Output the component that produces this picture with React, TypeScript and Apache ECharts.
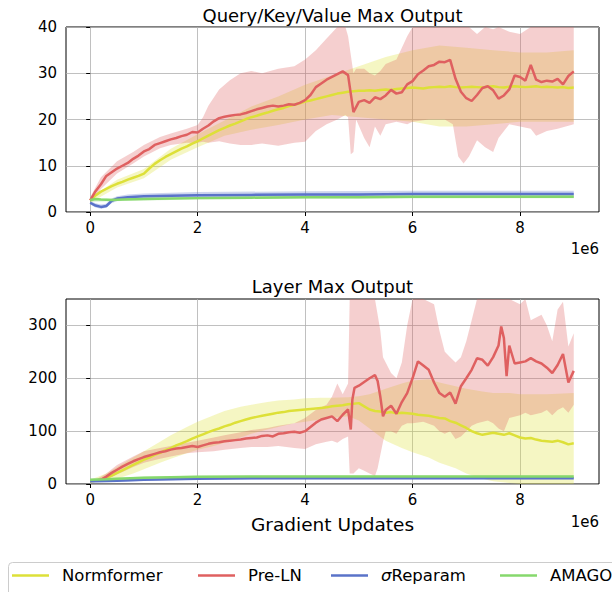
import React, { useEffect, useRef } from "react";
import * as echarts from "echarts";

// ---------- data ----------
const SERIES_NAMES = ["Normformer", "Pre-LN", "σReparam", "AMAGO"];
const X_TICKS = [0, 2, 4, 6, 8];
const QKV_Y_TICKS = [0, 10, 20, 30, 40];
const LAYER_Y_TICKS = [0, 100, 200, 300];

// x grid (step 0.1e6, values shown in units of 1e6)
const X_GRID = Array.from({ length: 91 }, (_, i) => i / 10);

// --- Query/Key/Value Max Output ---
const qkvPreLnMean = [
  2.5, 4.5, 6.0, 7.8, 8.6, 9.4, 10.0, 10.6, 11.5, 12.2,
  13.1, 13.6, 14.5, 14.9, 15.3, 15.7, 16.0, 16.4, 16.7, 17.3,
  17.2, 18.0, 18.7, 19.6, 20.3, 20.6, 20.8, 21.0, 21.1, 21.4,
  21.8, 22.2, 22.5, 22.8, 23.0, 22.8, 23.0, 23.3, 23.2, 23.6,
  24.2, 25.3, 27.0, 27.8, 28.6, 29.2, 29.8, 30.4, 29.6, 21.6,
  23.8, 24.2, 23.6, 24.8, 24.4, 25.2, 26.4, 25.6, 25.9, 27.6,
  28.3, 29.8, 30.6, 31.5, 31.8, 32.5, 32.4, 32.9, 28.8, 26.0,
  24.6, 24.0, 25.3, 26.8, 27.2, 26.3, 24.5, 25.2, 26.5, 29.5,
  29.2, 28.4, 31.8, 28.6, 28.1, 28.4, 28.2, 28.8, 27.6, 29.4,
  30.4,
];
const qkvNormMean = [
  2.5, 3.6, 4.4, 5.0, 5.6, 6.1, 6.5, 7.0, 7.4, 7.8,
  8.3, 9.4, 10.4, 11.2, 11.9, 12.5, 13.1, 13.7, 14.2, 14.8,
  15.3, 15.9, 16.5, 17.1, 17.7, 18.2, 18.7, 19.1, 19.6, 20.1,
  20.5, 20.8, 21.2, 21.5, 21.9, 22.2, 22.5, 22.9, 23.2, 23.5,
  23.9, 24.1, 24.4, 24.7, 25.0, 25.3, 25.6, 25.8, 26.0, 26.1,
  26.2, 26.2, 26.3, 26.2, 26.4, 26.5, 26.4, 26.6, 26.7, 26.8,
  26.9, 26.8, 26.7, 26.9, 27.0, 27.1, 27.0, 27.2, 27.0, 26.9,
  27.0, 27.1, 27.0, 26.9, 27.1, 27.2, 27.0, 26.9, 27.1, 27.2,
  27.1, 27.0, 27.1, 27.2, 27.0, 27.1, 27.0, 26.9, 27.0, 26.8,
  26.9,
];
// [x, low, high]
const qkvNormBand = [
  [0, 2.0, 3.0], [0.5, 5.3, 7.0], [1, 7.3, 9.3], [1.5, 11.3, 13.7], [2, 14.0, 16.8],
  [2.5, 16.5, 19.8], [3, 17.8, 22.8], [3.5, 18.8, 25.0], [4, 20.0, 27.5], [4.5, 21.0, 29.5],
  [5, 20.5, 31.5], [5.5, 20.0, 33.5], [6, 19.5, 35.0], [6.5, 18.5, 36.0], [7, 18.5, 35.5],
  [7.5, 19.0, 35.0], [8, 19.5, 34.5], [8.5, 19.5, 34.5], [9, 19.5, 35.0],
];
const qkvPreLnBand = [
  [0, 2.0, 3.2], [0.2, 5.0, 7.5], [0.5, 8.3, 11.0], [0.8, 10.5, 13.0], [1.0, 12.0, 14.5],
  [1.3, 13.8, 16.2], [1.5, 14.5, 17.0], [1.8, 15.0, 18.0], [2.0, 15.0, 18.8], [2.1, 15.2, 20.5],
  [2.2, 15.0, 23.0], [2.4, 15.3, 26.5], [2.6, 14.8, 28.5], [2.8, 14.5, 30.0], [3.0, 14.5, 30.5],
  [3.2, 14.8, 30.0], [3.5, 14.3, 31.0], [3.8, 15.0, 31.5], [4.0, 15.2, 33.0], [4.2, 17.5, 35.0],
  [4.4, 19.0, 37.5], [4.6, 20.0, 41.0], [4.75, 21.0, 41.0], [4.8, 20.5, 38.0], [4.85, 12.5, 34.0],
  [4.9, 13.0, 30.0], [4.95, 20.0, 31.0], [5.1, 16.0, 31.0], [5.2, 14.0, 30.0], [5.3, 18.5, 29.5],
  [5.4, 16.5, 30.5], [5.5, 19.0, 32.0], [5.7, 19.5, 33.0], [5.9, 19.0, 38.0], [6.0, 19.5, 41.0],
  [6.3, 20.0, 41.0], [6.6, 20.0, 41.0], [6.75, 19.0, 41.0], [6.85, 12.0, 41.0], [6.95, 10.5, 41.0],
  [7.05, 12.0, 41.0], [7.2, 15.5, 38.5], [7.35, 14.0, 41.0], [7.5, 13.0, 39.5], [7.6, 16.0, 41.0],
  [7.8, 19.0, 39.0], [8.0, 18.5, 38.5], [8.2, 18.0, 41.0], [8.3, 16.5, 41.0], [8.5, 17.5, 40.0],
  [8.7, 18.0, 41.0], [9.0, 19.0, 41.0],
];
const qkvSigmaMean = [
  [0, 2.0], [0.1, 1.4], [0.2, 1.1], [0.3, 1.3], [0.4, 2.4], [0.5, 2.9], [0.7, 3.2], [1, 3.4],
  [1.5, 3.5], [2, 3.6], [3, 3.7], [4, 3.8], [5, 3.8], [6, 3.9], [7, 3.9], [8, 3.9], [9, 3.9],
];
const qkvSigmaBand = [
  [0, 1.6, 2.4], [0.1, 1.0, 1.9], [0.2, 0.7, 1.6], [0.3, 0.9, 1.8], [0.4, 1.9, 2.9], [0.5, 2.4, 3.4],
  [0.7, 2.7, 3.8], [1, 2.8, 4.0], [2, 3.0, 4.3], [4, 3.1, 4.5], [6, 3.2, 4.6], [9, 3.2, 4.6],
];
const qkvAmagoMean = [
  [0, 2.6], [0.1, 2.8], [0.2, 2.7], [0.4, 2.6], [0.6, 2.7], [1, 2.8], [2, 3.0], [3, 3.1],
  [4, 3.2], [5, 3.2], [6, 3.3], [7, 3.3], [8, 3.3], [9, 3.3],
];
const qkvAmagoBand = [
  [0, 2.2, 3.0], [0.4, 2.3, 2.9], [1, 2.5, 3.1], [2, 2.7, 3.3], [4, 2.9, 3.5], [9, 3.0, 3.6],
];

// --- Layer Max Output ---
const layerPreLnMean = [
  [0.1, 6], [0.2, 8], [0.3, 14], [0.4, 21], [0.5, 27], [0.6, 33], [0.7, 38], [0.8, 43], [0.9, 47],
  [1.0, 51], [1.1, 54], [1.2, 57], [1.3, 60], [1.4, 62], [1.5, 65], [1.6, 67], [1.7, 68], [1.8, 70],
  [1.9, 72], [2.0, 70], [2.1, 73], [2.2, 76], [2.3, 78], [2.4, 79], [2.5, 81], [2.6, 82], [2.7, 83],
  [2.8, 84], [2.9, 86], [3.0, 87], [3.1, 88], [3.2, 91], [3.3, 92], [3.4, 90], [3.5, 95], [3.6, 96],
  [3.7, 98], [3.8, 99], [3.9, 97], [4.0, 100], [4.1, 108], [4.2, 116], [4.3, 122], [4.4, 125],
  [4.5, 128], [4.6, 119], [4.7, 131], [4.8, 141], [4.85, 103], [4.88, 160], [4.92, 182], [5.0, 186],
  [5.1, 193], [5.2, 200], [5.3, 206], [5.35, 195], [5.4, 165], [5.45, 128], [5.5, 140], [5.6, 148],
  [5.7, 133], [5.8, 155], [5.9, 172], [6.0, 200], [6.1, 232], [6.2, 224], [6.3, 216], [6.4, 192],
  [6.5, 172], [6.6, 165], [6.7, 173], [6.8, 152], [6.9, 185], [7.0, 200], [7.1, 216], [7.2, 238],
  [7.3, 235], [7.4, 224], [7.5, 240], [7.6, 262], [7.65, 298], [7.7, 276], [7.75, 204], [7.8, 262],
  [7.9, 228], [8.0, 230], [8.1, 232], [8.2, 238], [8.3, 232], [8.4, 228], [8.5, 220], [8.6, 210],
  [8.7, 225], [8.8, 246], [8.9, 192], [9.0, 214],
];
const layerNormMean = [
  5, 6, 8, 12, 16, 21, 26, 31, 36, 41,
  46, 50, 55, 59, 64, 68, 73, 77, 81, 86,
  90, 94, 98, 102, 105, 109, 112, 116, 119, 122,
  125, 127, 129, 131, 133, 135, 136, 138, 139, 140,
  141, 142, 143, 144, 145, 147, 148, 149, 151, 152,
  153, 147, 141, 138, 137, 135, 136, 134, 135, 134,
  133, 131, 130, 129, 127, 125, 124, 119, 116, 111,
  106, 100, 96, 93, 95, 97, 95, 93, 96, 92,
  88, 86, 87, 84, 82, 81, 80, 82, 79, 75,
  77,
];
const layerNormBand = [
  [0, 3, 8], [0.3, 6, 20], [0.5, 10, 32], [0.8, 20, 50], [1.0, 28, 62], [1.3, 40, 80], [1.5, 48, 92],
  [1.8, 58, 108], [2.0, 65, 118], [2.3, 72, 130], [2.5, 78, 138], [2.8, 88, 146], [3.0, 95, 150],
  [3.3, 103, 155], [3.5, 108, 158], [3.8, 115, 160], [4.0, 118, 162], [4.3, 122, 163], [4.5, 125, 163],
  [4.8, 128, 164], [5.0, 120, 166], [5.2, 105, 170], [5.5, 82, 180], [5.8, 68, 190], [6.0, 60, 196],
  [6.3, 50, 198], [6.5, 40, 192], [6.8, 30, 185], [7.0, 20, 180], [7.3, 10, 175], [7.5, 5, 172],
  [7.8, 2, 172], [8.0, 0, 170], [8.5, 0, 170], [9.0, 0, 172],
];
const layerPreLnBand = [
  [0.1, 4, 8], [0.3, 8, 20], [0.5, 18, 36], [0.8, 32, 52], [1.0, 40, 62], [1.3, 48, 68], [1.5, 52, 72],
  [1.8, 58, 78], [2.0, 60, 82], [2.3, 62, 88], [2.5, 65, 92], [2.8, 68, 98], [3.0, 70, 102],
  [3.3, 70, 106], [3.5, 72, 110], [3.8, 68, 115], [4.0, 66, 125], [4.2, 75, 140], [4.4, 80, 150],
  [4.5, 82, 165], [4.6, 78, 190], [4.7, 85, 170], [4.8, 90, 190], [4.83, 20, 360], [4.9, 20, 360],
  [5.0, 30, 360], [5.1, 25, 360], [5.2, 20, 360], [5.3, 15, 360], [5.35, 30, 320], [5.4, 55, 290],
  [5.45, 80, 240], [5.5, 100, 230], [5.6, 100, 210], [5.7, 95, 200], [5.8, 110, 230], [5.9, 115, 300],
  [6.0, 115, 360], [6.2, 118, 360], [6.4, 110, 340], [6.5, 100, 290], [6.6, 95, 250], [6.7, 100, 240],
  [6.8, 85, 230], [6.9, 90, 240], [7.0, 100, 270], [7.1, 110, 310], [7.2, 115, 360], [7.4, 120, 360],
  [7.5, 115, 360], [7.6, 105, 360], [7.7, 100, 360], [7.8, 125, 360], [8.0, 130, 340], [8.1, 135, 355],
  [8.2, 130, 310], [8.4, 135, 320], [8.5, 140, 300], [8.6, 130, 270], [8.7, 140, 330], [8.8, 145, 345],
  [8.9, 135, 260], [9.0, 150, 285],
];
const layerSigmaMean = [
  [0, 5], [0.5, 6], [1, 8], [1.5, 9], [2, 10], [3, 11], [4, 11], [5, 11], [6, 11], [7, 11], [8, 11], [9, 11],
];
const layerSigmaBand = [
  [0, 3, 7], [0.5, 4, 8], [1, 6, 10], [2, 8, 12], [4, 9, 13], [9, 9, 13],
];
const layerAmagoMean = [
  [0, 8], [0.3, 9], [0.5, 10], [1, 12], [1.5, 13], [2, 13.5], [3, 14], [5, 14], [9, 14],
];
const layerAmagoBand = [
  [0, 6, 10], [0.5, 8, 12], [1, 10, 14], [2, 11.5, 15.5], [5, 12, 16], [9, 12, 16],
];

// ---------- styling ----------
const COLORS = ["#dde038", "#df6060", "#5a73c9", "#86d86c"];
const BAND_COLORS = [
  "rgba(221,224,56,0.3)",
  "rgba(223,96,96,0.3)",
  "rgba(90,115,201,0.3)",
  "rgba(134,216,108,0.3)",
];
const FONT = "DejaVu Sans";

const onGrid = (vals: number[]) => vals.map((v, i) => [X_GRID[i], v]);

function bandSeries(name: string, data: number[][], color: string, idx: number) {
  return {
    type: "custom",
    name,
    xAxisIndex: idx,
    yAxisIndex: idx,
    silent: true,
    z: 1,
    data,
    renderItem: (params: any, api: any) => {
      if (params.dataIndex !== 0) return null;
      const cs = params.coordSys;
      const top = cs.y;
      const bottom = cs.y + cs.height;
      const clamp = (p: number[]) => [p[0], Math.min(bottom, Math.max(top, p[1]))];
      const upper = data.map((d) => clamp(api.coord([d[0], d[2]])));
      const lower = data.map((d) => clamp(api.coord([d[0], d[1]]))).reverse();
      return {
        type: "polygon",
        shape: { points: upper.concat(lower) },
        style: { fill: color, stroke: "none" },
      };
    },
  };
}

function lineSeries(name: string, data: number[][], color: string, idx: number) {
  return {
    type: "line",
    name,
    xAxisIndex: idx,
    yAxisIndex: idx,
    data,
    silent: true,
    showSymbol: false,
    symbol: "none",
    z: 3,
    lineStyle: { color, width: 2.5 },
    itemStyle: { color },
  };
}

export default function App() {
  const ref = useRef<HTMLDivElement>(null);

  useEffect(() => {
    if (!ref.current) return;
    const chart = echarts.init(ref.current, undefined, { renderer: "svg" });

    const gridBase = { left: 66, width: 533, height: 185, show: true, borderColor: "#000", borderWidth: 1, backgroundColor: "transparent" };
    const xAxisBase = (idx: number) => ({
      type: "value",
      gridIndex: idx,
      min: -0.45,
      max: 9.47,
      axisLine: { show: false },
      axisTick: { show: true, length: 4, customValues: X_TICKS, lineStyle: { color: "#000" } },
      axisLabel: { customValues: X_TICKS, color: "#000", fontFamily: FONT, fontSize: 15, margin: 8 },
      splitLine: { show: true, lineStyle: { color: "#b0b0b0", width: 0.8 } },
    });
    const yAxisBase = (idx: number, max: number, ticks: number[]) => ({
      type: "value",
      gridIndex: idx,
      min: 0,
      max,
      axisLine: { show: false },
      axisTick: { show: true, length: 4, customValues: ticks, lineStyle: { color: "#000" } },
      axisLabel: { customValues: ticks, color: "#000", fontFamily: FONT, fontSize: 15, margin: 9 },
      splitLine: { show: true, lineStyle: { color: "#b0b0b0", width: 0.8 } },
    });

    const legendBase = {
      top: 567,
      padding: 0,
      icon: "rect",
      itemWidth: 37,
      itemHeight: 2.5,
      selectedMode: false,
      textStyle: {
        color: "#000",
        fontFamily: FONT,
        fontSize: 16.5,
        padding: [0, 0, 0, 8],
        rich: { i: { fontStyle: "italic", fontFamily: FONT, fontSize: 16.5, color: "#000" } },
      },
    };

    const series: any[] = [
      bandSeries("qkv-norm-band", qkvNormBand, BAND_COLORS[0], 0),
      bandSeries("qkv-preln-band", qkvPreLnBand, BAND_COLORS[1], 0),
      bandSeries("qkv-sigma-band", qkvSigmaBand, BAND_COLORS[2], 0),
      bandSeries("qkv-amago-band", qkvAmagoBand, BAND_COLORS[3], 0),
      lineSeries(SERIES_NAMES[0], onGrid(qkvNormMean), COLORS[0], 0),
      lineSeries(SERIES_NAMES[1], onGrid(qkvPreLnMean), COLORS[1], 0),
      lineSeries(SERIES_NAMES[2], qkvSigmaMean, COLORS[2], 0),
      lineSeries(SERIES_NAMES[3], qkvAmagoMean, COLORS[3], 0),
      bandSeries("layer-norm-band", layerNormBand, BAND_COLORS[0], 1),
      bandSeries("layer-preln-band", layerPreLnBand, BAND_COLORS[1], 1),
      bandSeries("layer-sigma-band", layerSigmaBand, BAND_COLORS[2], 1),
      bandSeries("layer-amago-band", layerAmagoBand, BAND_COLORS[3], 1),
      lineSeries(SERIES_NAMES[0], onGrid(layerNormMean), COLORS[0], 1),
      lineSeries(SERIES_NAMES[1], layerPreLnMean, COLORS[1], 1),
      lineSeries(SERIES_NAMES[2], layerSigmaMean, COLORS[2], 1),
      lineSeries(SERIES_NAMES[3], layerAmagoMean, COLORS[3], 1),
    ];

    const option: any = {
      animation: false,
      backgroundColor: "#fff",
      textStyle: { fontFamily: FONT },
      grid: [
        { ...gridBase, top: 27 },
        { ...gridBase, top: 299 },
      ],
      xAxis: [
        xAxisBase(0),
        {
          ...xAxisBase(1),
          name: "Gradient Updates",
          nameLocation: "middle",
          nameGap: 31,
          nameTextStyle: { color: "#000", fontFamily: FONT, fontSize: 18.5 },
        },
      ],
      yAxis: [yAxisBase(0, 40, QKV_Y_TICKS), yAxisBase(1, 350, LAYER_Y_TICKS)],
      legend: [
        { ...legendBase, left: 12, data: [SERIES_NAMES[0]] },
        { ...legendBase, left: 198, data: [SERIES_NAMES[1]] },
        {
          ...legendBase,
          left: 331,
          data: [SERIES_NAMES[2]],
          formatter: (n: string) => (n === "σReparam" ? "{i|σ}Reparam" : n),
        },
        { ...legendBase, left: 500, data: [SERIES_NAMES[3]] },
      ],
      graphic: [
        {
          type: "rect",
          z: -1,
          shape: { x: 8.5, y: 562.5, width: 640, height: 50, r: 4 },
          style: { fill: "rgba(255,255,255,0.8)", stroke: "#cccccc", lineWidth: 1 },
        },
        {
          type: "text",
          x: 332.5,
          y: 15,
          style: { text: "Query/Key/Value Max Output", fontFamily: FONT, fontSize: 18, fill: "#000", textAlign: "center", textVerticalAlign: "middle" },
        },
        {
          type: "text",
          x: 332.5,
          y: 286,
          style: { text: "Layer Max Output", fontFamily: FONT, fontSize: 18, fill: "#000", textAlign: "center", textVerticalAlign: "middle" },
        },
        {
          type: "text",
          x: 599,
          y: 249,
          style: { text: "1e6", fontFamily: FONT, fontSize: 15, fill: "#000", textAlign: "right", textVerticalAlign: "middle" },
        },
        {
          type: "text",
          x: 599,
          y: 522,
          style: { text: "1e6", fontFamily: FONT, fontSize: 15, fill: "#000", textAlign: "right", textVerticalAlign: "middle" },
        },
      ],
      series,
    };

    chart.setOption(option);
    return () => chart.dispose();
  }, []);

  return (
    <div
      ref={ref}
      style={{ position: "fixed", left: 0, top: 0, width: 612, height: 592, background: "#fff" }}
    />
  );
}
